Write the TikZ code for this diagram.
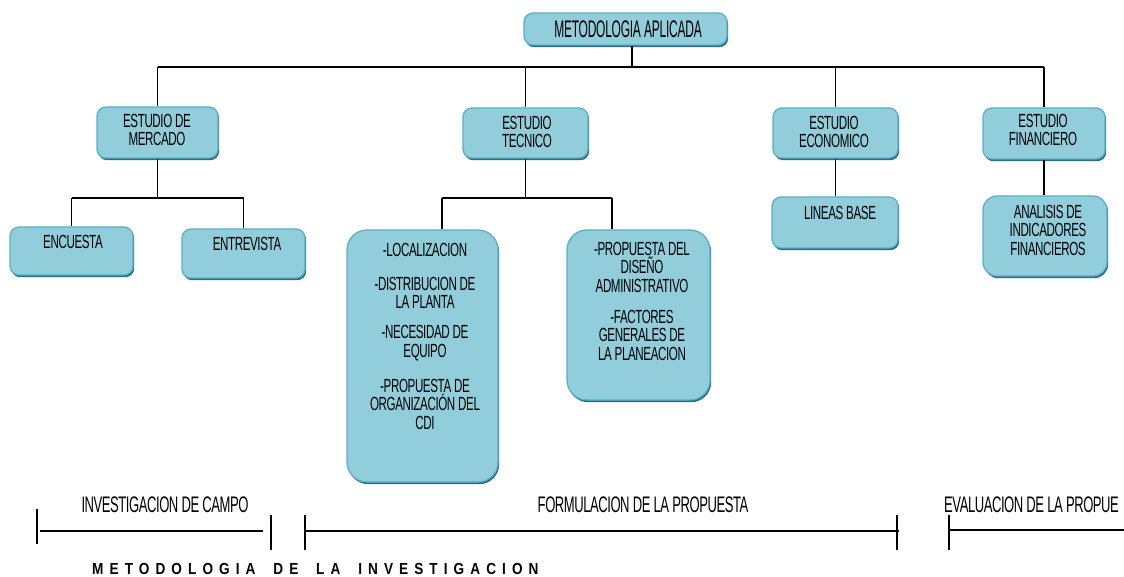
\documentclass[tikz,border=0pt]{standalone}
\usepackage{fontspec}
\setmainfont{Liberation Sans}
\newfontfamily\cond[FakeStretch=0.61,LetterSpace=-2]{Liberation Sans}
\newfontfamily\condL[FakeStretch=0.58,LetterSpace=-2]{Liberation Sans}
\newfontfamily\condT[FakeStretch=0.5,LetterSpace=-1]{Liberation Sans}
\newfontfamily\spaced[LetterSpace=38,FakeStretch=0.85]{Liberation Sans Bold}
\usetikzlibrary{shadows}
\definecolor{boxfill}{RGB}{146,205,220}
\definecolor{boxborder}{RGB}{88,176,202}
\definecolor{boxshadow}{RGB}{40,110,130}
\begin{document}
\begin{tikzpicture}[x=1pt,y=-1pt,
  box/.style={draw=boxborder, line width=1.3pt, fill=boxfill, rounded corners=#1, inner sep=0pt,
    drop shadow={shadow xshift=1.2pt, shadow yshift=-2.2pt, fill=boxshadow, opacity=1}},
  box/.default=9pt,
  txt/.style={align=center, inner sep=0pt, font=\cond\fontsize{19}{18.5}\selectfont},
  big/.style={align=center, inner sep=0pt, font=\condT\fontsize{24}{24}\selectfont},
  lbl/.style={anchor=base, inner sep=0pt, font=\condL\fontsize{22.5}{22.5}\selectfont},
  conn/.style={draw=black, line width=1.1pt},
  brk/.style={draw=black, line width=1.1pt}]
\useasboundingbox (0,0) rectangle (1124,577);
\fill[white] (0,0) rectangle (1124,577);

% boxes
\node[box, minimum width=203pt, minimum height=32pt] (title) at (625.5,29) {};
\node[box, minimum width=121pt, minimum height=51pt] (mercado) at (157.5,132.5) {};
\node[box, minimum width=125pt, minimum height=50pt] (tecnico) at (525.5,133) {};
\node[box, minimum width=125pt, minimum height=50pt] (economico) at (835.5,133) {};
\node[box, minimum width=122pt, minimum height=51pt] (financiero) at (1044,133.5) {};
\node[box, minimum width=123pt, minimum height=48pt] (encuesta) at (71.5,251) {};
\node[box, minimum width=123pt, minimum height=49pt] (entrevista) at (243.5,253.5) {};
\node[box=20pt, minimum width=151pt, minimum height=252pt] (loc) at (422.5,356) {};
\node[box=20pt, minimum width=143pt, minimum height=170pt] (prop) at (638.5,315) {};
\node[box, minimum width=126pt, minimum height=51pt] (lineas) at (835,222.5) {};
\node[box=14pt, minimum width=124pt, minimum height=80pt] (analisis) at (1045,236) {};

% texts
\node[big] (ttitle) at (628,29) {METODOLOGIA APLICADA};
\node[txt] (tmercado) at (157,130) {ESTUDIO DE\\MERCADO};
\node[txt] (ttecnico) at (527,132) {ESTUDIO\\TECNICO};
\node[txt] (teconomico) at (834,132) {ESTUDIO\\ECONOMICO};
\node[txt] (tfinanciero) at (1043,130) {ESTUDIO\\FINANCIERO};
\node[txt] (tencuesta) at (73,242) {ENCUESTA};
\node[txt] (tentrevista) at (247,244) {ENTREVISTA};
\node[txt] (tlineas) at (840,213) {LINEAS BASE};
\node[txt] (tanalisis) at (1048,230) {ANALISIS DE\\INDICADORES\\FINANCIEROS};
\node[txt] (tloc1) at (425,250) {-LOCALIZACION};
\node[txt] (tloc2) at (425,293) {-DISTRIBUCION DE\\LA PLANTA};
\node[txt] (tloc3) at (425,343) {-NECESIDAD DE\\EQUIPO};
\node[txt] (tloc4) at (425,404) {-PROPUESTA DE\\ORGANIZACIÓN DEL\\CDI};
\node[txt] (tprop1) at (642,267) {-PROPUESTA DEL\\DISEÑO\\ADMINISTRATIVO};
\node[txt] (tprop2) at (642,335) {-FACTORES\\GENERALES DE\\LA PLANEACION};

% connectors
\coordinate (jt) at (632,67);
\coordinate (jm) at (157,198);
\coordinate (tl) at (442,198);
\coordinate (tr) at (612,198);
\draw[conn] (title.south -| jt) -- (jt);
\draw[conn] (jt -| mercado.north) -- (jt -| financiero.north);
\draw[conn] (jt -| mercado.north) -- (mercado.north);
\draw[conn] (jt -| tecnico.north) -- (tecnico.north);
\draw[conn] (jt -| economico.north) -- (economico.north);
\draw[conn] (jt -| financiero.north) -- (financiero.north);
\draw[conn] (mercado.south) -- (mercado.south |- jm);
\draw[conn] (jm -| encuesta.north) -- (jm -| entrevista.north);
\draw[conn] (jm -| encuesta.north) -- (encuesta.north);
\draw[conn] (jm -| entrevista.north) -- (entrevista.north);
\draw[conn] (tecnico.south) -- (tecnico.south |- tl);
\draw[conn] (tl) -- (tr);
\draw[conn] (tl) -- (tl |- loc.north);
\draw[conn] (tr) -- (tr |- prop.north);
\draw[conn] (economico.south) -- (economico.south |- lineas.north);
\draw[conn] (financiero.south) -- (financiero.south |- analisis.north);

% bottom brackets
\draw[brk] (37,509) -- (37,544);
\draw[brk] (40,531) -- (263,531);
\draw[brk] (271,515) -- (271,550);
\draw[brk] (305,515) -- (305,550);
\draw[brk] (305,531) -- (899,531);
\draw[brk] (897,515) -- (897,550);
\draw[brk] (949,515) -- (949,550);
\draw[brk] (949,530) -- (1124,530);
\node[lbl] (linv) at (165,512) {INVESTIGACION DE CAMPO};
\node[lbl] (lform) at (643,512) {FORMULACION DE LA PROPUESTA};
\node[lbl, anchor=base west] (leval) at (944,512) {EVALUACION DE LA PROPUE};
\node[anchor=base west, inner sep=0pt, font=\spaced\fontsize{16}{16}\selectfont] (lmet) at (92,574) {METODOLOGIA\hspace{8pt} DE\hspace{8pt} LA\hspace{8pt} INVESTIGACION};
\end{tikzpicture}
\end{document}
